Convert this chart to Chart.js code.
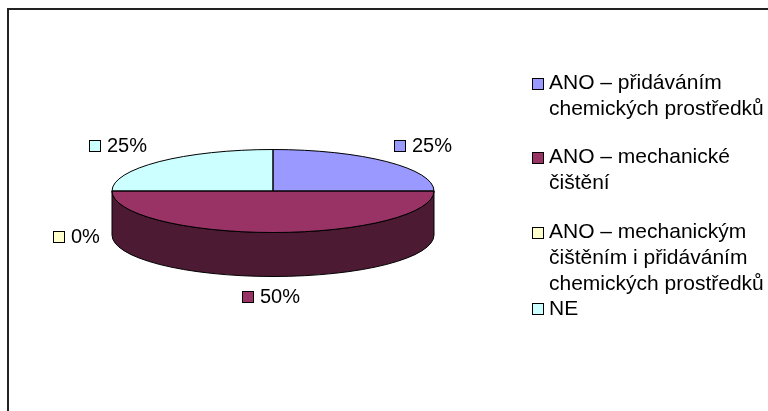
<!DOCTYPE html>
<html>
<head>
<meta charset="utf-8">
<script src="https://cdn.jsdelivr.net/npm/chart.js@4"></script>
<style>
  html, body { margin: 0; padding: 0; background: #fff; }
  canvas { display: block; }
</style>
</head>
<body>
<canvas id="chart" width="768" height="411"></canvas>
<script>
const categories = [
  ["ANO – přidáváním", "chemických prostředků"],
  ["ANO – mechanické", "čištění"],
  ["ANO – mechanickým", "čištěním i přidáváním", "chemických prostředků"],
  ["NE"]
];
const shares = [25, 50, 0, 25];
const sliceColors = ["#9999FF", "#993366", "#FFFFCC", "#CCFFFF"];
const sideColors = ["#4C4C80", "#4C1A33", "#808066", "#668080"];

// where things sit on the page, not data
const squash = 41.5 / 161;
const depth = 44;
const legendFont = "21px 'Liberation Sans', Arial, sans-serif";
const labelFont = "20px 'Liberation Sans', Arial, sans-serif";
const labelSpots = [[394, 146], [242, 297], [53, 237], [89, 146]];
const legendRows = [84, 158, 233, 309];
const legendLineYs = [[83, 109], [157, 183], [232, 258, 284], [309]];

function box(ctx, x, y, color) {
  ctx.fillStyle = color;
  ctx.fillRect(x + 0.5, y - 5.5, 11, 11);
  ctx.strokeStyle = "#000";
  ctx.lineWidth = 1;
  ctx.strokeRect(x + 0.5, y - 5.5, 11, 11);
}

const fakePie3d = {
  id: "fakePie3d",
  beforeDatasetsDraw(chart) {
    const ctx = chart.ctx;
    // side wall, only where a slice faces the viewer
    chart.getDatasetMeta(0).data.forEach((arc, i) => {
      const from = Math.max(arc.startAngle, 0);
      const to = Math.min(arc.endAngle, Math.PI);
      if (to <= from) return;
      const rx = arc.outerRadius, ry = rx * squash;
      ctx.beginPath();
      ctx.ellipse(arc.x, arc.y, rx, ry, 0, from, to);
      ctx.ellipse(arc.x, arc.y + depth, rx, ry, 0, to, from, true);
      ctx.closePath();
      ctx.fillStyle = sideColors[i];
      ctx.fill();
      ctx.strokeStyle = "#000";
      ctx.lineWidth = 1;
      ctx.stroke();
    });
    const first = chart.getDatasetMeta(0).data[0];
    ctx.save();
    ctx.translate(first.x, first.y);
    ctx.scale(1, squash);
    ctx.translate(-first.x, -first.y);
  },
  afterDatasetsDraw(chart) {
    const ctx = chart.ctx;
    ctx.restore();
    chart.getDatasetMeta(0).data.forEach((arc) => {
      if (arc.endAngle - arc.startAngle <= 0) return;
      ctx.beginPath();
      ctx.moveTo(arc.x, arc.y);
      ctx.ellipse(arc.x, arc.y, arc.outerRadius, arc.outerRadius * squash, 0, arc.startAngle, arc.endAngle);
      ctx.closePath();
      ctx.strokeStyle = "#000";
      ctx.lineWidth = 1;
      ctx.stroke();
    });
  },
  afterDraw(chart) {
    const ctx = chart.ctx;
    // frame runs off the page on the right and at the bottom
    ctx.fillStyle = "#222";
    ctx.fillRect(7, 8, 761, 2);
    ctx.fillRect(7, 8, 2, 403);

    ctx.textBaseline = "middle";
    ctx.textAlign = "left";
    shares.forEach((v, i) => {
      const [x, y] = labelSpots[i];
      box(ctx, x, y, sliceColors[i]);
      ctx.font = labelFont;
      ctx.fillStyle = "#000";
      ctx.fillText(v + "%", x + 18, y);
    });
    categories.forEach((lines, i) => {
      box(ctx, 532, legendRows[i], sliceColors[i]);
      ctx.font = legendFont;
      ctx.fillStyle = "#000";
      lines.forEach((line, j) => ctx.fillText(line, 549, legendLineYs[i][j]));
    });
  }
};

new Chart(document.getElementById("chart"), {
  type: "pie",
  data: {
    labels: categories.map(c => c.join(" ")),
    datasets: [{
      data: shares,
      backgroundColor: sliceColors,
      borderWidth: 0,
      radius: 161
    }]
  },
  options: {
    responsive: false,
    animation: false,
    layout: { padding: { left: 0, top: 0, right: 222, bottom: 29 } },
    plugins: { legend: { display: false }, tooltip: { enabled: false } }
  },
  plugins: [fakePie3d]
});
</script>
</body>
</html>
